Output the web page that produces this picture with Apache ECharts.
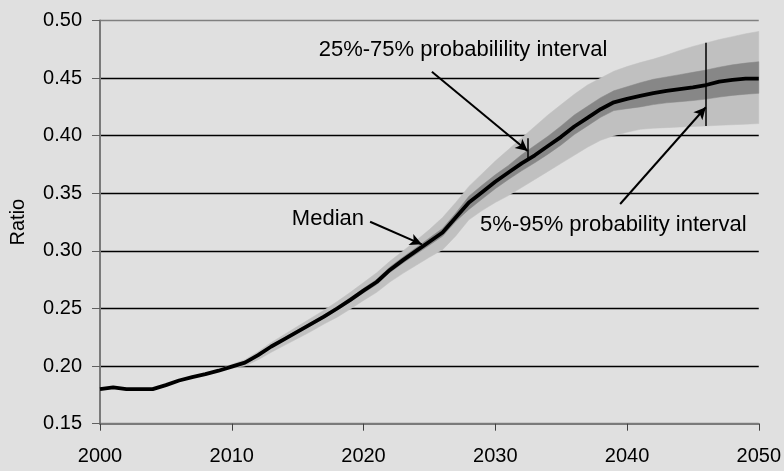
<!DOCTYPE html>
<html>
<head>
<meta charset="utf-8">
<script src="https://cdn.jsdelivr.net/npm/echarts@6/dist/echarts.min.js"></script>
<style>
html,body{margin:0;padding:0;background:#e0e0e0;}
#chart{width:784px;height:471px;}
</style>
</head>
<body>
<div id="chart"></div>
<script>
// ---- data ----
const years = [];
for (let y = 2000; y <= 2050; y++) years.push(y);

const median = [0.1800,0.1815,0.1800,0.1800,0.1800,0.1835,0.1875,0.1905,0.1930,0.1960,
  0.1995,0.2030,0.2095,0.2170,0.2235,0.2300,0.2365,0.2430,0.2500,0.2575,
  0.2655,0.2730,0.2835,0.2920,0.3000,0.3080,0.3160,0.3290,0.3420,0.3510,
  0.3600,0.3680,0.3760,0.3830,0.3910,0.3990,0.4080,0.4155,0.4230,0.4290,
  0.4320,0.4345,0.4370,0.4390,0.4405,0.4420,0.4440,0.4470,0.4485,0.4495,0.4495];

const p5 = [0.1800,0.1815,0.1800,0.1800,0.1800,0.1835,0.1875,0.1905,0.1930,0.1955,
  0.1980,0.2000,0.2055,0.2120,0.2180,0.2240,0.2300,0.2365,0.2425,0.2495,
  0.2570,0.2640,0.2730,0.2805,0.2875,0.2945,0.3010,0.3130,0.3270,0.3350,
  0.3420,0.3480,0.3550,0.3620,0.3690,0.3760,0.3830,0.3900,0.3960,0.4000,
  0.4030,0.4055,0.4065,0.4070,0.4075,0.4080,0.4085,0.4090,0.4095,0.4100,0.4105];

const p25 = [0.1800,0.1815,0.1800,0.1800,0.1800,0.1835,0.1875,0.1905,0.1930,0.1955,
  0.1990,0.2022,0.2085,0.2160,0.2225,0.2288,0.2352,0.2415,0.2485,0.2558,
  0.2635,0.2708,0.2812,0.2895,0.2973,0.3050,0.3128,0.3255,0.3360,0.3450,
  0.3540,0.3620,0.3695,0.3765,0.3840,0.3920,0.4010,0.4085,0.4160,0.4218,
  0.4235,0.4250,0.4270,0.4285,0.4295,0.4305,0.4318,0.4335,0.4350,0.4360,0.4368];

const p75 = [0.1800,0.1815,0.1800,0.1800,0.1800,0.1835,0.1875,0.1905,0.1930,0.1965,
  0.2005,0.2040,0.2105,0.2180,0.2248,0.2313,0.2378,0.2445,0.2517,0.2593,
  0.2675,0.2752,0.2860,0.2946,0.3028,0.3112,0.3195,0.3328,0.3475,0.3570,
  0.3660,0.3742,0.3835,0.3915,0.3995,0.4085,0.4180,0.4255,0.4330,0.4390,
  0.4425,0.4460,0.4490,0.4510,0.4530,0.4550,0.4570,0.4595,0.4615,0.4630,0.4642];

const p95 = [0.1800,0.1815,0.1800,0.1800,0.1800,0.1835,0.1875,0.1905,0.1930,0.1970,
  0.2015,0.2055,0.2125,0.2205,0.2275,0.2345,0.2415,0.2485,0.2560,0.2640,
  0.2725,0.2810,0.2910,0.3000,0.3090,0.3185,0.3290,0.3420,0.3560,0.3670,
  0.3780,0.3880,0.3980,0.4080,0.4180,0.4270,0.4360,0.4440,0.4500,0.4560,
  0.4600,0.4635,0.4665,0.4700,0.4740,0.4775,0.4805,0.4835,0.4860,0.4885,0.4905];

const yTicks = [0.15,0.20,0.25,0.30,0.35,0.40,0.45,0.50];
const xTicks = [2000,2010,2020,2030,2040,2050];

// annotations (data coordinates)
const labels = [
  {text:'25%-75% probabilility interval', at:[2016.6, 0.4748]},
  {text:'Median', at:[2014.56, 0.3277]},
  {text:'5%-95% probability interval', at:[2028.85, 0.3222]}
];
const arrows = [
  [[2025.19, 0.4556],[2032.46, 0.3867]],
  [[2020.50, 0.3253],[2024.43, 0.3057]],
  [[2039.48, 0.3407],[2045.98, 0.4247]]
];
const markers = [
  [[2032.5, 0.3795],[2032.5, 0.3977]],
  [[2046.0, 0.4084],[2046.0, 0.4807]]
];

// ---- chart ----
const FONT = "'Liberation Sans', Arial, sans-serif";
const pair = arr => years.map((y,i)=>[y,arr[i]]);

function bandSeries(lo, hi, color, z){
  return {
    type:'custom', silent:true, z:z,
    coordinateSystem:'cartesian2d',
    data: years.map((y,i)=>[y, lo[i], hi[i]]),
    encode:{x:0, y:[1,2]},
    renderItem:function(params, api){
      if (params.dataIndex !== 0) return null;
      const pts = [];
      for (let i = 0; i < years.length; i++) pts.push(api.coord([years[i], hi[i]]));
      for (let i = years.length-1; i >= 0; i--) pts.push(api.coord([years[i], lo[i]]));
      return {type:'polygon', shape:{points:pts}, style:{fill:color, stroke:color, lineWidth:0.5}};
    }
  };
}

const chart = echarts.init(document.getElementById('chart'), null, {renderer:'canvas'});
const gridColors = yTicks.map((t,i)=> (i===0 || i===yTicks.length-1) ? '#808080' : '#000000');

chart.setOption({
  backgroundColor:'#e0e0e0',
  animation:false,
  grid:{left:100, right:25, top:20.5, bottom:47.3},
  xAxis:{
    type:'value', min:xTicks[0], max:xTicks[xTicks.length-1], interval:10,
    axisLine:{show:true, onZero:false, lineStyle:{color:'#7a7a7a', width:2}},
    axisTick:{show:true, inside:false, length:7, lineStyle:{color:'#404040', width:1}},
    axisLabel:{color:'#000', fontSize:20, fontFamily:FONT, margin:23,
      formatter: v => String(v)},
    splitLine:{show:false}
  },
  yAxis:{
    type:'value', min:yTicks[0], max:yTicks[yTicks.length-1], interval:0.05,
    name:'Ratio', nameLocation:'middle', nameGap:72, nameRotate:90,
    nameTextStyle:{color:'#000', fontSize:20, fontFamily:FONT},
    axisLine:{show:true, onZero:false, lineStyle:{color:'#7a7a7a', width:2}},
    axisTick:{show:true, inside:false, length:8, lineStyle:{color:'#606060', width:1}},
    axisLabel:{color:'#000', fontSize:20, fontFamily:FONT, margin:18,
      formatter: v => v.toFixed(2)},
    splitLine:{show:true, lineStyle:{color:gridColors, width:1.3}}
  },
  series:[
    bandSeries(p5, p95, '#c0c0c0', 2),
    bandSeries(p25, p75, '#878787', 3),
    {type:'line', data:pair(median), symbol:'none', silent:true, z:5,
      lineStyle:{color:'#000', width:3.8},
      markLine:{
        silent:true, animation:false,
        label:{show:false},
        data: arrows.map(a=>[
          {coord:a[0], symbol:'none', lineStyle:{color:'#000', width:2, type:'solid'}},
          {coord:a[1], symbol:'arrow', symbolSize:[9,12]}
        ]).concat(markers.map(m=>[
          {coord:m[0], symbol:'none', lineStyle:{color:'#000', width:1.5, type:'solid'}},
          {coord:m[1], symbol:'none'}
        ]))
      }
    }
  ]
});

// text labels placed via the axes
const g = labels.map(l=>{
  const p = chart.convertToPixel({gridIndex:0}, l.at);
  return {type:'text', x:p[0], y:p[1], z:10, silent:true,
    style:{text:l.text, fill:'#000', font:'22px ' + FONT, textAlign:'left', textVerticalAlign:'middle'}};
});
chart.setOption({graphic:g});
</script>
</body>
</html>
